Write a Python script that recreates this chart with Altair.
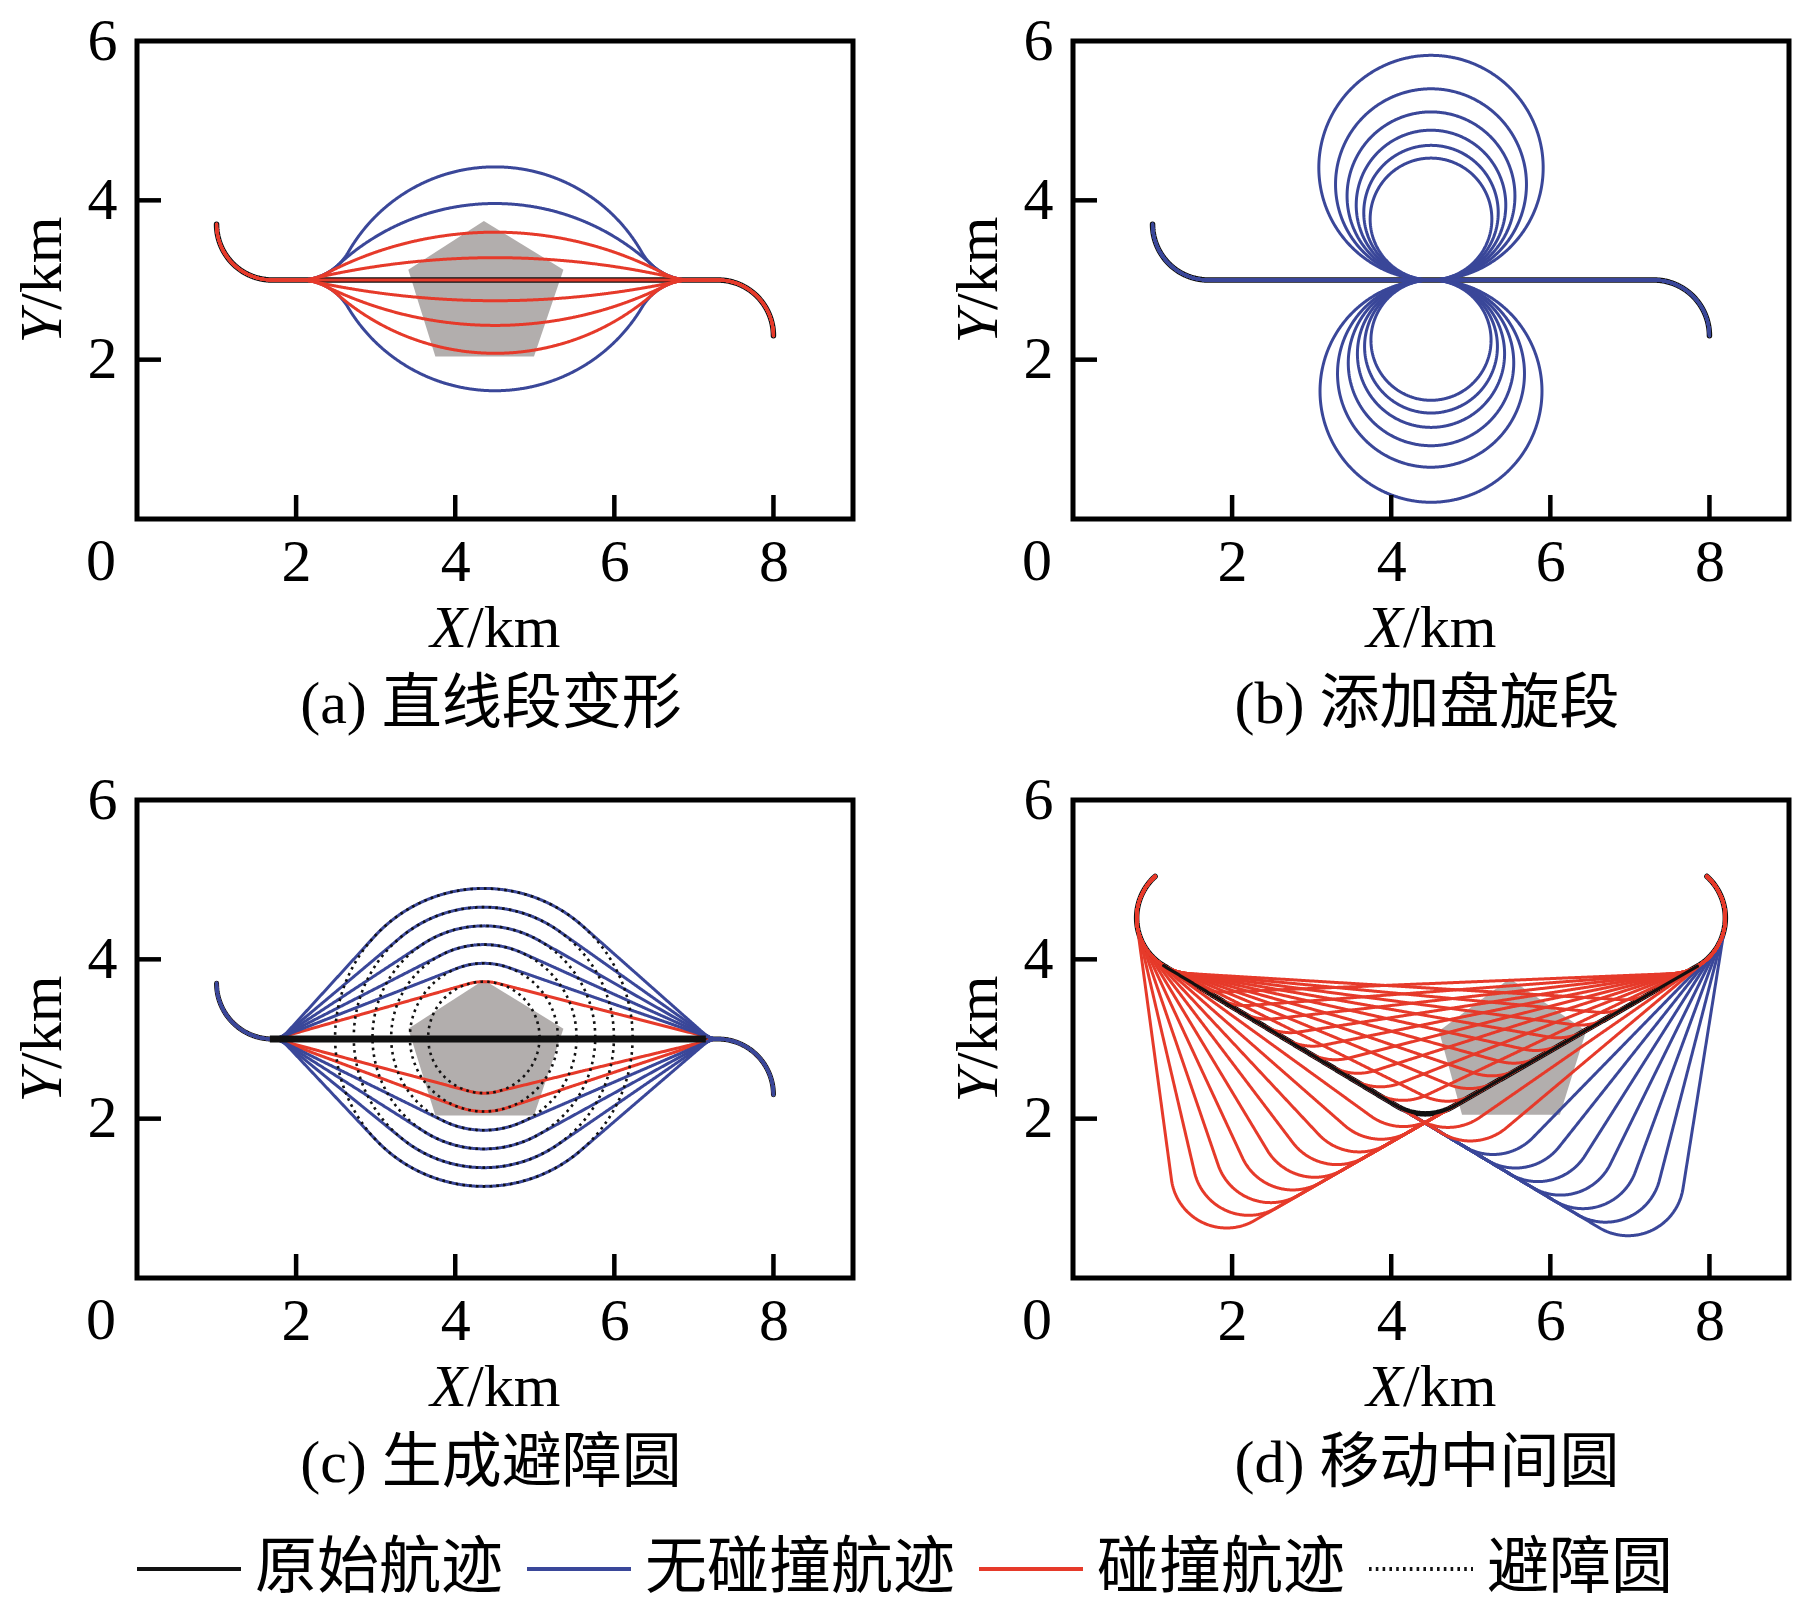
import math
import altair as alt
import pandas as pd

SERIF = "Liberation Serif"
CJK = "Noto Sans CJK SC"
MIXED = "Liberation Serif, Noto Sans CJK SC"

# ---------------- categories and labels ----------------
KINDS = ["原始航迹", "无碰撞航迹", "碰撞航迹", "避障圆"]
KIND_COLORS = ["#111111", "#3a4799", "#e63a2a", "#111111"]
KIND_DASH = [[1, 0], [1, 0], [1, 0], [2.6, 4.2]]
PANEL_TITLES = ["(a) 直线段变形", "(b) 添加盘旋段", "(c) 生成避障圆", "(d) 移动中间圆"]
X_TICK_VALUES = [2, 4, 6, 8]
Y_LABEL_VALUES = [2, 4, 6]
Y_TICK_VALUES = [2, 4]
ORIGIN_LABEL = [0]

# ---------------- geometry (km) ----------------
# original route of (a)-(c): left turn, straight leg, right turn
START_TURN = [1.7, 3.7, 0.7]   # centre x, centre y, radius (left turn)
END_TURN = [7.3, 2.3, 0.7]     # centre x, centre y, radius (right turn)
TURN_R = 0.7

# (a) deformed straight leg: peak offset of every route from the leg
A_PEAK = [1.42, 0.96, 0.60, 0.28, 0.0, -0.26, -0.57, -0.92, -1.39]
A_KIND = ["无碰撞航迹", "无碰撞航迹", "碰撞航迹", "碰撞航迹", "碰撞航迹",
          "碰撞航迹", "碰撞航迹", "碰撞航迹", "无碰撞航迹"]
A_DEPART_X = 2.05
A_MID_X = 4.5
A_OBST_X = [4.36, 5.36, 4.99, 3.75, 3.41]
A_OBST_Y = [3.74, 3.13, 2.04, 2.04, 3.13]

# (b) loiter circles added on the leg
B_LOOP_X = 4.5
B_UP_R = [1.41, 1.20, 1.055, 0.94, 0.845, 0.765]
B_DOWN_R = [1.395, 1.175, 1.04, 0.925, 0.835, 0.755]

# (c) avoidance circles
C_CENTRE = [4.36, 3.02]
C_R = [0.70, 0.93, 1.165, 1.40, 1.635, 1.87]
C_UP_KIND = ["碰撞航迹", "无碰撞航迹", "无碰撞航迹", "无碰撞航迹", "无碰撞航迹", "无碰撞航迹"]
C_DOWN_KIND = ["碰撞航迹", "碰撞航迹", "无碰撞航迹", "无碰撞航迹", "无碰撞航迹", "无碰撞航迹"]
C_FAN_R = 0.25
C_STRAIGHT_X = [1.67, 7.15]

# (d) moving the middle circle
D_START = [1.5, 4.52]
D_END = [7.5, 4.52]
D_START_DEG = 132.0
D_END_DEG = 48.0
D_MID = [4.43, 2.76]
D_SHIFT_U = [-2.88, -2.56, -2.24, -1.92, -1.60, -1.28, -0.96, -0.64, -0.32,
             0.32, 0.64, 0.96, 1.28, 1.60, 1.92, 2.24, 2.56, 2.88]
D_KIND_U = ["碰撞航迹"] * 18
D_SHIFT_V = [-2.97, -2.64, -2.31, -1.98, -1.65, -1.32, -0.99, -0.66, -0.33,
             0.33, 0.66, 0.99, 1.32, 1.65, 1.98, 2.31, 2.64, 2.97]
D_KIND_V = ["碰撞航迹"] * 11 + ["无碰撞航迹"] * 7
D_OBST_X = [5.49, 6.45, 6.12, 4.89, 4.60]
D_OBST_Y = [3.76, 3.10, 2.05, 2.05, 3.10]

GRAY = "#b2aead"
W, H = 716, 478

# ---------------- geometry helpers (arcs + tangent lines) ----------------
STEP = 0.025
TAU = 2 * math.pi


def arc(cx, cy, r, a0, sweep):
    n = max(2, int(abs(sweep) * r / STEP) + 2)
    return [(cx + r * math.cos(a0 + sweep * k / (n - 1)),
             cy + r * math.sin(a0 + sweep * k / (n - 1))) for k in range(n)]


def sweep_of(s, a0, a1):
    sw = (a1 - a0) % TAU if s > 0 else -((a0 - a1) % TAU)
    if abs(sw) > TAU - 1e-6:
        sw = 0.0
    return sw


def tangent(c1, c2):
    x1, y1, r1, s1 = c1
    x2, y2, r2, s2 = c2
    dx, dy = x2 - x1, y2 - y1
    k = s2 * r2 - s1 * r1
    t = math.sqrt(max(dx * dx + dy * dy - k * k, 0.0))
    ang = math.atan2(dy, dx) - math.atan2(k, t)
    lx, ly = -math.sin(ang), math.cos(ang)
    return (x1 - s1 * r1 * lx, y1 - s1 * r1 * ly), (x2 - s2 * r2 * lx, y2 - s2 * r2 * ly)


def route_parts(circles, a_start, a_end):
    parts, a_in = [], a_start
    for k, c in enumerate(circles):
        cx, cy, r, s = c
        if k + 1 < len(circles):
            p1, p2 = tangent(c, circles[k + 1])
            a_out = math.atan2(p1[1] - cy, p1[0] - cx)
            parts.append(arc(cx, cy, r, a_in, sweep_of(s, a_in, a_out)))
            n = circles[k + 1]
            a_in = math.atan2(p2[1] - n[1], p2[0] - n[0])
        else:
            parts.append(arc(cx, cy, r, a_in, sweep_of(s, a_in, a_end)))
    return parts


def route(circles, a_start, a_end):
    pts = []
    for p in route_parts(circles, a_start, a_end):
        pts += p
    return pts


def frame(paths):
    rows = []
    for pid, (kind, pts) in enumerate(paths):
        for i, (x, y) in enumerate(pts):
            rows.append({"x": x, "y": y, "id": pid, "i": i, "kind": kind})
    return pd.DataFrame(rows)


START_C = (START_TURN[0], START_TURN[1], START_TURN[2], 1)
END_C = (END_TURN[0], END_TURN[1], END_TURN[2], -1)
LEG_Y = START_TURN[1] - START_TURN[2]
ORIGINAL = route([START_C, END_C], math.pi, 0.0)

# (a)
a_paths = []
for h, kind in zip(A_PEAK, A_KIND):
    if h == 0:
        circles = [START_C, END_C]
    else:
        s = 1 if h > 0 else -1
        L = A_MID_X - A_DEPART_X
        R = (L * L + h * h) / (2 * abs(h)) - TURN_R
        circles = [START_C,
                   (A_DEPART_X, LEG_Y + s * TURN_R, TURN_R, s),
                   (A_MID_X, LEG_Y + h - s * R, R, -s),
                   (2 * A_MID_X - A_DEPART_X, LEG_Y + s * TURN_R, TURN_R, s),
                   END_C]
    a_paths.append((kind, route(circles, math.pi, 0.0)))

# (b)
b_paths = []
for r in B_UP_R:
    pts = arc(START_TURN[0], START_TURN[1], TURN_R, math.pi, math.pi / 2)
    pts += arc(B_LOOP_X, LEG_Y + r, r, -math.pi / 2, TAU)
    pts += arc(END_TURN[0], END_TURN[1], TURN_R, math.pi / 2, -math.pi / 2)
    b_paths.append(("无碰撞航迹", pts))
for r in B_DOWN_R:
    pts = arc(START_TURN[0], START_TURN[1], TURN_R, math.pi, math.pi / 2)
    pts += arc(B_LOOP_X, LEG_Y - r, r, math.pi / 2, -TAU)
    pts += arc(END_TURN[0], END_TURN[1], TURN_R, math.pi / 2, -math.pi / 2)
    b_paths.append(("无碰撞航迹", pts))

# (c)
c_paths, c_circles = [], []
for r, ku, kd in zip(C_R, C_UP_KIND, C_DOWN_KIND):
    up = [START_C, (START_TURN[0], LEG_Y + C_FAN_R, C_FAN_R, 1),
          (C_CENTRE[0], C_CENTRE[1], r, -1),
          (END_TURN[0], LEG_Y + C_FAN_R, C_FAN_R, 1), END_C]
    dn = [START_C, (START_TURN[0], LEG_Y - C_FAN_R, C_FAN_R, -1),
          (C_CENTRE[0], C_CENTRE[1], r, 1),
          (END_TURN[0], LEG_Y - C_FAN_R, C_FAN_R, -1), END_C]
    c_paths.append((ku, route(up, math.pi, 0.0)))
    c_paths.append((kd, route(dn, math.pi, 0.0)))
    c_circles.append(("避障圆", arc(C_CENTRE[0], C_CENTRE[1], r, 0.0, TAU)))

# (d)
DL = (D_START[0], D_START[1], TURN_R, 1)
DR = (D_END[0], D_END[1], TURN_R, 1)
a0, a1 = math.radians(D_START_DEG), math.radians(D_END_DEG)
ux, uy = D_END[0] - D_MID[0], D_END[1] - D_MID[1]
nu = math.hypot(ux, uy); ux, uy = ux / nu, uy / nu
vx, vy = D_MID[0] - D_START[0], D_MID[1] - D_START[1]
nv = math.hypot(vx, vy); vx, vy = vx / nv, vy / nv
d_parts = route_parts([DL, (D_MID[0], D_MID[1], TURN_R, 1), DR], a0, a1)
D_ORIGINAL = d_parts[0] + d_parts[1] + d_parts[2]
D_ORIGINAL_V = [d_parts[0][-1]] + d_parts[1] + [d_parts[2][0]]
d_paths = []
for sh, kind in zip(D_SHIFT_U, D_KIND_U):
    m = (D_MID[0] + sh * ux, D_MID[1] + sh * uy, TURN_R, 1)
    d_paths.append((kind, route([DL, m, DR], a0, a1)))
for sh, kind in zip(D_SHIFT_V, D_KIND_V):
    m = (D_MID[0] + sh * vx, D_MID[1] + sh * vy, TURN_R, 1)
    d_paths.append((kind, route([DL, m, DR], a0, a1)))

# ---------------- chart building ----------------
XS = alt.Scale(domain=[0, 9], nice=False, zero=False)
YS = alt.Scale(domain=[0, 6], nice=False, zero=False)
XAX = alt.Axis(values=X_TICK_VALUES, title=None, ticks=False, tickSize=0, domain=False, grid=False,
               labelFont=SERIF, labelFontSize=60, labelPadding=14, labelColor="black")
YAX = alt.Axis(values=Y_LABEL_VALUES, title=None, ticks=False, tickSize=0, domain=False, grid=False,
               labelFont=SERIF, labelFontSize=60, labelPadding=20, labelColor="black")
XF = alt.X("x:Q", scale=XS, axis=XAX)
YF = alt.Y("y:Q", scale=YS, axis=YAX)

LEG = alt.Legend(title=None, orient="none", legendX=-2, legendY=1474, direction="horizontal",
                 symbolType="stroke", symbolSize=10816, symbolStrokeWidth=4,
                 labelFont=CJK, labelFontSize=62, labelOffset=12, columnPadding=15,
                 labelLimit=1000, labelColor="black")
COLOR = alt.Color("kind:N", scale=alt.Scale(domain=KINDS, range=KIND_COLORS), legend=LEG)
DASH = alt.StrokeDash("kind:N", scale=alt.Scale(domain=KINDS, range=KIND_DASH), legend=LEG)


def lines(paths, width, cap="round"):
    return alt.Chart(frame(paths)).mark_line(strokeWidth=width, strokeCap=cap, strokeJoin="round").encode(
        x=XF, y=YF, detail="id:N", order="i:Q", color=COLOR, strokeDash=DASH)


def obstacle(xs, ys):
    df = pd.DataFrame({"x": xs, "y": ys, "i": list(range(len(xs)))})
    return alt.Chart(df).mark_line(filled=True, color=GRAY, strokeWidth=0).encode(x=XF, y=YF, order="i:Q")


def decorations(title):
    tx = alt.Chart(pd.DataFrame({"x": X_TICK_VALUES})).mark_rule(color="black", strokeWidth=4.5).encode(
        x=XF, y=alt.value(H), y2=alt.value(H - 24))
    ty = alt.Chart(pd.DataFrame({"y": Y_TICK_VALUES})).mark_rule(color="black", strokeWidth=4.5).encode(
        y=YF, x=alt.value(0), x2=alt.value(24))
    org = alt.Chart(pd.DataFrame({"x": ORIGIN_LABEL, "y": ORIGIN_LABEL})).mark_text(
        text="0", font=SERIF, fontSize=60, align="center", baseline="top", dx=-36, dy=14, color="black"
    ).encode(x=XF, y=YF)
    anchor_x = pd.DataFrame({"x": [A_MID_X], "y": [0]})
    xt1 = alt.Chart(anchor_x).mark_text(text="X", font=SERIF, fontStyle="italic", fontSize=60,
                                        align="right", baseline="alphabetic", dx=-28, dy=128,
                                        color="black").encode(x=XF, y=YF)
    xt2 = alt.Chart(anchor_x).mark_text(text="/km", font=SERIF, fontSize=60,
                                        align="left", baseline="alphabetic", dx=-28, dy=128,
                                        color="black").encode(x=XF, y=YF)
    anchor_y = pd.DataFrame({"x": [0], "y": [3]})
    yt1 = alt.Chart(anchor_y).mark_text(text="Y", font=SERIF, fontStyle="italic", fontSize=60, angle=270,
                                        align="right", baseline="alphabetic", dx=-30, dy=-76,
                                        color="black").encode(x=XF, y=YF)
    yt2 = alt.Chart(anchor_y).mark_text(text="/km", font=SERIF, fontSize=60, angle=270,
                                        align="left", baseline="alphabetic", dx=-30, dy=-76,
                                        color="black").encode(x=XF, y=YF)
    ttl = alt.Chart(anchor_x).mark_text(text=title, font=MIXED, fontSize=60, align="center",
                                        baseline="middle", dy=186, dx=-4, color="black").encode(x=XF, y=YF)
    return [tx, ty, org, xt1, xt2, yt1, yt2, ttl]


def by_kind(paths, kind):
    return [p for p in paths if p[0] == kind]


pa = alt.layer(
    obstacle(A_OBST_X, A_OBST_Y),
    lines([("原始航迹", ORIGINAL)], 5.5),
    lines(by_kind(a_paths, "无碰撞航迹"), 3),
    lines(by_kind(a_paths, "碰撞航迹"), 3),
    *decorations(PANEL_TITLES[0]),
).properties(width=W, height=H)

pb = alt.layer(
    lines([("原始航迹", ORIGINAL)], 5.5),
    lines(b_paths, 3),
    *decorations(PANEL_TITLES[1]),
).properties(width=W, height=H)

straight_c = pd.DataFrame({"x": C_STRAIGHT_X, "y": [LEG_Y, LEG_Y], "i": [0, 1]})
pc = alt.layer(
    obstacle(A_OBST_X, A_OBST_Y),
    lines([("原始航迹", ORIGINAL)], 5),
    lines(by_kind(c_paths, "碰撞航迹"), 3),
    lines(by_kind(c_paths, "无碰撞航迹"), 3),
    alt.Chart(straight_c).mark_line(color="#111111", strokeWidth=7).encode(x=XF, y=YF, order="i:Q"),
    lines(c_circles, 2.6, cap="butt"),
    *decorations(PANEL_TITLES[2]),
).properties(width=W, height=H)

pd_ = alt.layer(
    obstacle(D_OBST_X, D_OBST_Y),
    lines([("原始航迹", D_ORIGINAL)], 5.5),
    lines(by_kind(d_paths, "无碰撞航迹"), 3),
    lines(by_kind(d_paths, "碰撞航迹"), 3),
    lines([("原始航迹", D_ORIGINAL_V)], 3.2),
    *decorations(PANEL_TITLES[3]),
).properties(width=W, height=H)

chart = alt.concat(pa, pb, pc, pd_, columns=2, spacing={"row": 281, "column": 220},
                   bounds="flush").properties(
    background="white", padding={"left": 2, "top": 0, "right": 5, "bottom": 5}
).configure_view(stroke="black", strokeWidth=5)

chart.save("out.html", embed_options={"renderer": "svg", "actions": False})
